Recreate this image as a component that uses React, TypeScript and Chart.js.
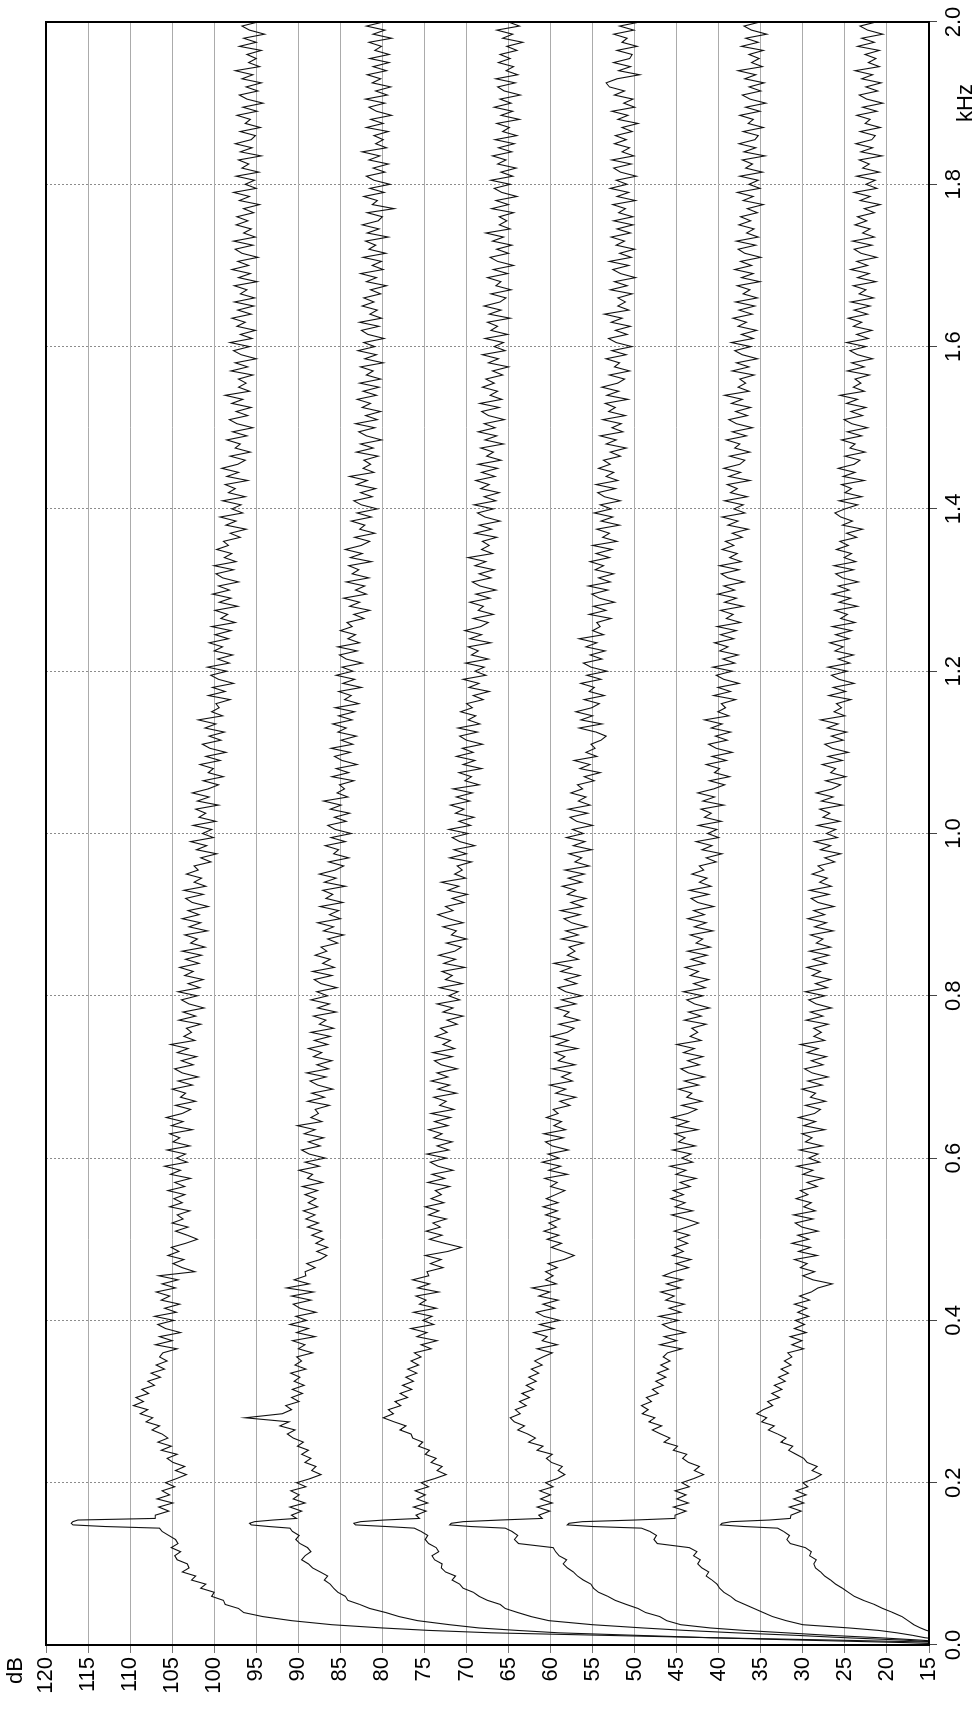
import React, { useEffect, useRef } from "react";
import { Chart, registerables } from "chart.js";

Chart.register(...registerables);

// ---- frequency sample positions (kHz) ----
const KHZ_LOW = [0, 0.003, 0.006, 0.009, 0.012, 0.015, 0.018, 0.021, 0.025];
const KHZ_RISE = Array.from({ length: 23 }, (_, i) => Math.round((0.03 + i * 0.005) * 1000) / 1000);
const KHZ_PEAK = [0.144, 0.146, 0.148, 0.15, 0.152, 0.154, 0.156];
const KHZ_MAIN = Array.from({ length: 369 }, (_, i) => Math.round((0.16 + i * 0.005) * 1000) / 1000);
const KHZ = [...KHZ_LOW, ...KHZ_RISE, ...KHZ_PEAK, ...KHZ_MAIN];

// ---- tick labels ----
const KHZ_TICKS = ["0.0", "0.2", "0.4", "0.6", "0.8", "1.0", "1.2", "1.4", "1.6", "1.8", "2.0"];
const DB_TICKS = [120, 115, 110, 105, 100, 95, 90, 85, 80, 75, 70, 65, 60, 55, 50, 45, 40, 35, 30, 25, 20, 15];

// ---- series (dB) ----
const TRACE_1 = [
  5, 12, 26, 41, 54, 67, 74.5, 80, 86,
  90.8, 94.2, 96.5, 97.1, 98.7, 98.9, 100.3, 100.0, 101.6, 101.0, 102.7, 102.2, 103.8, 103.0, 103.2, 104.4, 104.7, 104.0, 105.1, 104.3, 104.6, 105.4, 106.2,
  106.5, 113, 116.8, 117, 116.8, 116.2, 107,
  107.0, 105.4, 106.6, 104.9, 106.8, 105.3, 106.2, 104.7, 105.8, 104.5, 103.3, 104.6, 103.5, 104.9, 105.6, 104.4, 106.3, 105.1, 106.7, 105.5,
  106.2, 107.4, 106.5, 108.1, 107.3, 108.8, 107.9, 109.6, 108.4, 109.3, 107.8, 108.6, 107.1, 107.9, 106.4, 107.5, 105.9, 106.9, 105.6, 106.5,
  106.1, 104.4, 107.0, 105.0, 106.5, 104.0, 105.8, 106.7, 104.8, 107.1, 104.5, 105.9, 104.1, 106.3, 105.3, 106.9, 104.6, 106.2, 104.3, 106.6,
  102.3, 103.8, 104.9, 103.6, 105.5, 104.2, 105.1, 103.4, 102.0, 103.2, 104.6, 103.1, 105.0, 103.7, 104.4, 102.9, 105.3, 103.8, 104.8, 103.5,
  105.5, 103.5, 104.7, 102.8, 105.2, 104.0, 105.9, 103.2, 104.5, 103.4, 105.6, 102.9, 104.9, 104.1, 105.3, 102.6, 105.1, 103.7, 105.7, 103.8,
  102.8, 104.6, 102.2, 104.0, 103.4, 105.0, 102.6, 104.3, 101.9, 103.8, 104.7, 102.5, 103.9, 102.1, 104.4, 103.1, 105.2, 102.3, 103.6, 102.7,
  103.3, 101.6, 104.2, 102.2, 103.7, 101.2, 103.0, 103.9, 102.0, 104.3, 101.7, 103.1, 101.3, 103.5, 102.5, 104.1, 101.8, 103.4, 101.5, 103.8,
  101.1, 102.8, 102.0, 103.5, 100.8, 103.0, 101.6, 103.8, 101.8, 103.1, 100.7, 102.6, 103.4, 101.3, 103.6, 101.0, 102.4, 101.5, 103.3, 101.9,
  102.4, 100.4, 101.6, 99.7, 102.1, 100.9, 102.8, 100.1, 101.4, 100.3, 102.5, 99.8, 101.8, 101.0, 102.2, 99.5, 102.0, 100.6, 102.6, 100.7,
  99.5, 101.3, 98.9, 100.7, 100.1, 101.7, 99.3, 101.0, 98.6, 100.5, 101.4, 99.2, 100.6, 98.8, 101.1, 99.8, 101.9, 99.0, 100.3, 99.4,
  99.8, 98.1, 100.7, 98.7, 100.2, 97.7, 99.5, 100.4, 98.5, 100.8, 98.2, 99.6, 97.8, 100.0, 99.0, 100.6, 98.3, 99.9, 98.0, 100.3,
  97.5, 99.2, 98.4, 99.9, 97.2, 99.4, 98.0, 100.2, 98.2, 99.5, 97.1, 99.0, 99.8, 97.7, 100.0, 97.4, 98.8, 97.9, 99.7, 98.3,
  98.9, 96.9, 98.1, 96.2, 98.6, 97.4, 99.3, 96.6, 97.9, 96.8, 99.0, 96.3, 98.3, 97.5, 98.7, 96.0, 98.5, 97.1, 99.1, 97.2,
  96.3, 98.1, 95.7, 97.5, 96.9, 98.5, 96.1, 97.8, 95.4, 97.3, 98.2, 96.0, 97.4, 95.6, 97.9, 96.6, 98.7, 95.8, 97.1, 96.2,
  97.1, 95.4, 98.0, 96.0, 97.5, 95.0, 96.8, 97.7, 95.8, 98.1, 95.5, 96.9, 95.1, 97.3, 96.3, 97.9, 95.6, 97.2, 95.3, 97.6,
  95.2, 96.9, 96.1, 97.6, 94.9, 97.1, 95.7, 97.9, 95.9, 97.2, 94.8, 96.7, 97.5, 95.4, 97.7, 95.1, 96.5, 95.6, 97.4, 96.0,
  97.3, 95.3, 96.5, 94.6, 97.0, 95.8, 97.7, 95.0, 96.3, 95.2, 97.4, 94.7, 96.7, 95.9, 97.1, 94.4, 96.9, 95.5, 97.5, 95.6,
  95.1, 96.9, 94.5, 96.3, 95.7, 97.3, 94.9, 96.6, 94.2, 96.1, 97.0, 94.8, 96.2, 94.4, 96.7, 95.4, 97.5, 94.6, 95.9, 95.0,
  96.1, 94.4, 97.0, 95.0, 96.5, 94.0, 95.8, 96.7, 94.8,
];

const TRACE_2 = [
  10, 18, 30, 41, 50, 59, 64, 68.5, 72,
  75.8, 78.0, 79.6, 81.5, 82.7, 84.1, 84.4, 85.3, 85.8, 86.2, 86.9, 86.5, 87.4, 88.3, 88.8, 89.6, 89.2, 88.5, 88.9, 89.8, 90.3, 89.9, 90.7,
  91, 93.5, 95.6, 95.8, 95.2, 93, 90.2,
  90.8, 89.6, 91.0, 89.2, 90.6, 89.9, 90.9, 89.1, 90.2, 88.6, 87.3, 88.4, 87.9, 89.2, 88.5, 89.6, 88.8, 90.1, 89.4, 90.6,
  91.3, 90.4, 92.2, 91.1, 96.3, 91.9, 90.8, 91.5, 89.9, 90.8, 89.5, 90.7, 89.3, 90.5, 89.8, 90.9, 89.1, 90.4, 89.6, 90.2,
  88.3, 90.0, 89.2, 90.7, 88.0, 90.2, 88.8, 91.0, 89.0, 90.3, 87.9, 89.8, 90.6, 88.5, 90.8, 88.2, 91.4, 88.7, 90.5, 89.1,
  89.2, 88.0, 89.0, 87.4, 86.6, 87.8, 86.5, 87.9, 87.0, 88.4, 87.2, 88.9, 87.6, 89.1, 88.0, 89.4, 87.7, 88.8, 87.9, 89.2,
  87.7, 89.5, 87.1, 88.9, 88.3, 89.9, 87.5, 89.2, 86.8, 88.7, 89.6, 87.4, 88.8, 87.0, 89.3, 88.0, 90.1, 87.2, 88.5, 87.6,
  88.0, 86.3, 88.9, 86.9, 88.4, 85.9, 87.7, 88.6, 86.7, 89.0, 86.4, 87.8, 86.0, 88.2, 87.2, 88.8, 86.5, 88.1, 86.2, 88.5,
  85.8, 87.5, 86.7, 88.2, 85.5, 87.7, 86.3, 88.5, 86.5, 87.8, 85.4, 87.3, 88.1, 86.0, 88.3, 85.7, 87.1, 86.2, 88.0, 86.6,
  87.3, 85.3, 86.5, 84.6, 87.0, 85.8, 87.7, 85.0, 86.3, 85.2, 87.4, 84.7, 86.7, 85.9, 87.1, 84.4, 86.9, 85.5, 87.5, 85.6,
  84.6, 86.4, 84.0, 85.8, 85.2, 86.8, 84.4, 86.1, 83.7, 85.6, 86.5, 84.3, 85.7, 83.9, 86.2, 84.9, 87.0, 84.1, 85.4, 84.5,
  85.1, 83.4, 86.0, 84.0, 85.5, 83.0, 84.8, 85.7, 83.8, 86.1, 83.5, 84.9, 83.1, 85.3, 84.3, 85.9, 83.6, 85.2, 83.3, 85.6,
  82.8, 84.5, 83.7, 85.2, 82.5, 84.7, 83.3, 85.5, 83.5, 84.8, 82.4, 84.3, 85.1, 83.0, 85.3, 82.7, 84.1, 83.2, 85.0, 83.6,
  84.2, 82.2, 83.4, 81.5, 83.9, 82.7, 84.6, 81.9, 83.2, 82.1, 84.3, 81.6, 83.6, 82.8, 84.0, 81.3, 83.8, 82.4, 84.4, 82.5,
  81.5, 83.3, 80.9, 82.7, 82.1, 83.7, 81.3, 83.0, 80.6, 82.5, 83.4, 81.2, 82.6, 80.8, 83.1, 81.8, 83.9, 81.0, 82.3, 81.4,
  82.2, 80.5, 83.1, 81.1, 82.6, 80.1, 81.9, 82.8, 80.9, 83.2, 80.6, 82.0, 80.2, 82.4, 81.4, 83.0, 80.7, 82.3, 80.4, 82.7,
  80.2, 81.9, 81.1, 82.6, 79.9, 82.1, 80.7, 82.9, 80.9, 82.2, 79.8, 81.7, 82.5, 80.4, 82.7, 80.1, 81.5, 80.6, 82.4, 81.0,
  82.2, 80.2, 81.4, 79.5, 81.9, 80.7, 82.6, 79.9, 81.2, 80.1, 82.3, 79.6, 81.6, 80.8, 82.0, 79.3, 81.8, 80.4, 82.4, 80.5,
  80.0, 81.8, 78.6, 81.2, 80.6, 82.2, 79.8, 81.5, 79.1, 81.0, 81.9, 79.7, 81.1, 79.3, 81.6, 80.3, 82.4, 79.5, 80.8, 79.9,
  81.0, 79.3, 81.9, 79.9, 81.4, 78.9, 80.7, 81.6, 79.7, 82.0, 79.4, 80.8, 79.0, 81.2, 80.2, 81.8, 79.5, 81.1, 79.2, 81.5,
  79.2, 80.9, 80.1, 81.6, 78.9, 81.1, 79.7, 81.9, 79.9,
];

const TRACE_3 = [
  9, 13, 18, 25, 31, 38, 44, 49, 55,
  60.2, 62.3, 63.9, 65.4, 66.0, 67.5, 68.5, 69.2, 70.4, 70.8, 71.7, 71.3, 72.5, 73.0, 72.9, 73.8, 74.1, 73.3, 73.6, 74.5, 74.9, 74.6, 75.4,
  76.2, 79.5, 83.2, 83.4, 82.6, 79.8, 75.6,
  76.0, 74.8, 76.3, 74.6, 75.9, 74.9, 76.1, 74.5, 75.4, 73.8, 72.4, 73.5, 72.9, 74.2, 73.6, 74.9, 74.4, 75.7, 75.2, 76.4,
  76.6, 77.9, 77.2, 78.6, 79.9, 78.7, 79.3, 77.8, 78.5, 77.0, 77.9, 76.5, 77.6, 76.3, 77.2, 75.9, 77.0, 75.7, 76.6, 75.4,
  76.2, 74.2, 75.4, 73.5, 75.9, 74.7, 76.6, 73.9, 75.2, 74.1, 76.3, 73.6, 75.6, 74.8, 76.0, 73.3, 75.8, 74.4, 76.4, 74.5,
  74.7, 72.8, 74.3, 73.0, 74.9, 72.2, 70.6, 72.6, 74.4, 72.9, 74.8, 73.1, 74.0, 72.4, 74.5, 73.3, 74.9, 72.7, 74.2, 73.0,
  73.7, 72.0, 74.6, 72.6, 74.1, 71.6, 73.4, 74.3, 72.4, 74.7, 72.1, 73.5, 71.7, 73.9, 72.9, 74.5, 72.2, 73.8, 71.9, 74.2,
  71.5, 73.2, 72.4, 73.9, 71.2, 73.4, 72.0, 74.2, 72.2, 73.5, 71.1, 73.0, 73.8, 71.7, 74.0, 71.4, 72.8, 71.9, 73.7, 72.3,
  73.1, 71.1, 72.3, 70.4, 72.8, 71.6, 73.5, 70.8, 72.1, 71.0, 73.2, 70.5, 72.5, 71.7, 72.9, 70.2, 72.7, 71.3, 73.3, 71.4,
  70.6, 72.4, 70.0, 71.8, 71.2, 72.8, 70.4, 72.1, 73.4, 71.6, 72.5, 70.3, 71.7, 69.9, 72.2, 70.9, 73.0, 70.1, 71.4, 70.5,
  71.1, 69.4, 72.0, 70.0, 71.5, 69.0, 70.8, 71.7, 69.8, 72.1, 69.5, 70.9, 69.1, 71.3, 70.3, 71.9, 69.6, 71.2, 69.3, 71.6,
  68.5, 70.2, 69.4, 70.9, 68.2, 70.4, 69.0, 71.2, 69.2, 70.5, 68.1, 70.0, 70.8, 68.7, 71.0, 68.4, 69.8, 68.9, 70.7, 69.3,
  70.0, 68.0, 69.2, 67.3, 69.7, 68.5, 70.4, 67.7, 69.0, 67.9, 70.1, 67.4, 69.4, 68.6, 69.8, 67.1, 69.6, 68.2, 70.2, 68.3,
  67.4, 69.2, 66.8, 68.6, 68.0, 69.6, 67.2, 68.9, 66.5, 68.4, 69.3, 67.1, 68.5, 66.7, 69.0, 67.7, 69.8, 66.9, 68.2, 67.3,
  68.1, 66.4, 69.0, 67.0, 68.5, 66.0, 67.8, 68.7, 66.8, 69.1, 66.5, 67.9, 66.1, 68.3, 67.3, 68.9, 66.6, 68.2, 66.3, 68.6,
  65.9, 67.6, 66.8, 68.3, 65.6, 67.8, 66.4, 68.6, 66.6, 67.9, 65.5, 67.4, 68.2, 66.1, 68.4, 65.8, 67.2, 66.3, 68.1, 66.7,
  67.7, 65.7, 66.9, 65.0, 67.4, 66.2, 68.1, 65.4, 66.7, 65.6, 67.8, 65.1, 67.1, 66.3, 67.5, 64.8, 67.3, 65.9, 67.9, 66.0,
  65.3, 67.1, 64.7, 66.5, 65.9, 67.5, 65.1, 66.8, 64.4, 66.3, 67.2, 65.0, 66.4, 64.6, 66.9, 65.6, 67.7, 64.8, 66.1, 65.2,
  66.1, 64.4, 67.0, 65.0, 66.5, 64.0, 65.8, 66.7, 64.8, 67.1, 64.5, 65.9, 64.1, 66.3, 65.3, 66.9, 64.6, 66.2, 64.3, 66.6,
  64.0, 65.7, 64.9, 66.4, 63.7, 65.9, 64.5, 66.7, 64.7, 66.0, 63.6, 65.5, 66.3, 64.2, 66.5, 63.9, 65.3, 64.4, 66.2, 64.8,
  66.0, 64.0, 65.2, 63.3, 65.7, 64.5, 66.4, 63.7, 65.0,
];

const TRACE_4 = [
  8, 12, 16, 21, 27, 32, 37, 41, 44.5,
  46.2, 47.0, 48.7, 49.6, 51.0, 52.3, 53.2, 54.3, 54.9, 55.2, 56.1, 56.8, 57.3, 58.0, 58.5, 58.1, 59.0, 59.4, 59.7, 63.8, 64.3, 63.9, 64.6,
  65.4, 69.5, 72.0, 71.8, 70.4, 66.0, 61.0,
  61.4, 60.1, 61.6, 59.8, 61.2, 60.0, 61.3, 59.7, 60.6, 59.2, 58.3, 59.1, 58.6, 59.9, 60.5, 59.8, 61.6, 60.9, 62.6, 61.8,
  62.7, 63.9, 63.1, 64.3, 64.8, 63.6, 64.2, 62.9, 63.7, 62.5, 63.4, 62.0, 62.9, 61.7, 62.6, 61.4, 62.3, 61.0, 61.9, 60.9,
  59.8, 61.6, 59.2, 61.0, 60.4, 62.0, 59.6, 61.3, 58.9, 60.8, 61.7, 59.5, 60.9, 59.1, 61.4, 60.1, 62.2, 59.3, 60.6, 59.7,
  60.6, 59.2, 60.3, 58.4, 57.2, 58.5, 59.9, 58.7, 60.4, 59.0, 60.8, 59.3, 60.2, 58.9, 60.6, 59.2, 60.9, 59.1, 60.5, 59.4,
  58.3, 60.0, 59.2, 60.7, 58.0, 60.2, 58.8, 61.0, 59.0, 60.3, 57.9, 59.8, 60.6, 58.5, 60.8, 58.2, 59.6, 58.7, 60.5, 59.1,
  59.7, 57.7, 58.9, 57.0, 59.4, 58.2, 60.1, 57.4, 58.7, 57.6, 59.8, 57.1, 59.1, 58.3, 59.5, 56.8, 59.3, 57.9, 59.9, 58.0,
  57.2, 59.0, 56.6, 58.4, 57.8, 59.4, 57.0, 58.7, 56.3, 58.2, 59.1, 56.9, 58.3, 56.5, 58.8, 57.5, 59.6, 56.7, 58.0, 57.1,
  57.8, 56.1, 58.7, 56.7, 58.2, 55.7, 57.5, 58.4, 56.5, 58.8, 56.2, 57.6, 55.8, 58.0, 57.0, 58.6, 56.3, 57.9, 56.0, 58.3,
  55.4, 57.1, 56.3, 57.8, 55.1, 57.3, 55.9, 58.1, 56.1, 57.4, 55.0, 56.9, 57.7, 55.6, 57.9, 55.3, 56.7, 55.8, 57.6, 56.2,
  56.8, 54.8, 56.0, 54.1, 56.5, 55.3, 57.2, 54.5, 55.8, 54.7, 55.2, 54.0, 53.4, 54.6, 56.6, 53.9, 56.4, 55.0, 57.0, 55.1,
  54.2, 56.0, 53.6, 55.4, 54.8, 56.4, 54.0, 55.7, 53.3, 55.2, 56.1, 53.9, 55.3, 53.5, 55.8, 54.5, 56.6, 53.7, 55.0, 54.1,
  54.5, 52.8, 55.4, 53.4, 54.9, 52.4, 54.2, 55.1, 53.2, 55.5, 52.9, 54.3, 52.5, 54.7, 53.7, 55.3, 53.0, 54.6, 52.7, 55.0,
  52.1, 53.8, 53.0, 54.5, 51.8, 54.0, 52.6, 54.8, 52.8, 54.1, 51.7, 53.6, 54.4, 52.3, 54.6, 52.0, 53.4, 52.5, 54.3, 52.9,
  53.7, 51.7, 52.9, 51.0, 53.4, 52.2, 54.1, 51.4, 52.7, 51.6, 53.8, 51.1, 53.1, 52.3, 53.5, 50.8, 53.3, 51.9, 53.9, 52.0,
  51.2, 53.0, 50.6, 52.4, 51.8, 53.4, 51.0, 52.7, 50.3, 52.2, 53.1, 50.9, 52.3, 50.5, 52.8, 51.5, 53.6, 50.7, 52.0, 51.1,
  52.0, 50.3, 52.9, 50.9, 52.4, 49.9, 51.7, 52.6, 50.7, 53.0, 50.4, 51.8, 50.0, 52.2, 51.2, 52.8, 50.5, 52.1, 50.2, 52.5,
  50.2, 51.9, 51.1, 52.6, 49.9, 52.1, 50.7, 52.9, 50.9, 52.2, 49.8, 51.7, 52.5, 50.4, 52.7, 50.1, 51.5, 50.6, 52.4, 51.0,
  52.3, 50.3, 51.5, 49.6, 52.0, 50.8, 52.7, 50.0, 51.3, 50.2, 52.4, 51.2, 53.0, 53.4, 52.1, 49.4, 51.9, 50.5, 52.5, 50.6,
  50.3, 52.1, 49.7, 51.5, 50.9, 52.5, 50.1, 51.8, 49.4,
];

const TRACE_5 = [
  6, 9, 13, 15.5, 17, 18.8, 21, 24.5, 30,
  32.0, 33.6, 34.7, 35.8, 36.9, 38.0, 38.6, 39.4, 39.9, 40.2, 40.8, 41.5, 41.2, 42.0, 42.5, 42.2, 43.0, 42.6, 43.5, 47.3, 47.7, 47.4, 48.2,
  49.2, 55.0, 58.0, 57.8, 56.2, 50.0, 45.2,
  45.2, 43.9, 45.4, 43.6, 45.0, 43.9, 45.2, 43.5, 44.4, 43.0, 41.8, 42.9, 42.3, 43.6, 44.3, 43.8, 45.4, 44.9, 46.5, 45.8,
  46.9, 47.9, 46.8, 48.3, 47.6, 49.1, 48.4, 49.2, 48.0, 48.6, 47.2, 47.9, 46.6, 47.5, 46.3, 47.3, 46.0, 46.9, 45.8, 46.6,
  46.1, 44.4, 47.0, 45.0, 46.5, 44.0, 45.8, 46.7, 44.8, 47.1, 44.5, 45.9, 44.1, 46.3, 45.3, 46.9, 44.6, 46.2, 44.3, 46.6,
  45.4, 43.6, 45.1, 43.3, 45.5, 44.2, 45.2, 43.7, 44.9, 43.5, 45.3, 43.8, 42.4, 43.9, 45.6, 43.1, 45.2, 44.0, 45.7, 44.2,
  45.4, 43.4, 44.6, 42.7, 45.1, 43.9, 45.8, 43.1, 44.4, 43.3, 45.5, 42.8, 44.8, 44.0, 45.2, 42.5, 45.0, 43.6, 45.6, 43.7,
  42.6, 44.4, 42.0, 43.8, 43.2, 44.8, 42.4, 44.1, 41.7, 43.6, 44.5, 42.3, 43.7, 41.9, 44.2, 42.9, 45.0, 42.1, 43.4, 42.5,
  43.2, 41.5, 44.1, 42.1, 43.6, 41.1, 42.9, 43.8, 41.9, 44.2, 41.6, 43.0, 41.2, 43.4, 42.4, 44.0, 41.7, 43.3, 41.4, 43.7,
  41.0, 42.7, 41.9, 43.4, 40.7, 42.9, 41.5, 43.7, 41.7, 43.0, 40.6, 42.5, 43.3, 41.2, 43.5, 40.9, 42.3, 41.4, 43.2, 41.8,
  42.3, 40.3, 41.5, 39.6, 42.0, 40.8, 42.7, 40.0, 41.3, 40.2, 42.4, 39.7, 41.7, 40.9, 42.1, 39.4, 41.9, 40.5, 42.5, 40.6,
  39.3, 41.1, 38.7, 40.5, 39.9, 41.5, 39.1, 40.8, 38.4, 40.3, 41.2, 39.0, 40.4, 38.6, 40.9, 39.6, 41.7, 38.8, 40.1, 39.2,
  39.7, 38.0, 40.6, 38.6, 40.1, 37.6, 39.4, 40.3, 38.4, 40.7, 38.1, 39.5, 37.7, 39.9, 38.9, 40.5, 38.2, 39.8, 37.9, 40.2,
  37.4, 39.1, 38.3, 39.8, 37.1, 39.3, 37.9, 40.1, 38.1, 39.4, 37.0, 38.9, 39.7, 37.6, 39.9, 37.3, 38.7, 37.8, 39.6, 38.2,
  39.2, 37.2, 38.4, 36.5, 38.9, 37.7, 39.6, 36.9, 38.2, 37.1, 39.3, 36.6, 38.6, 37.8, 39.0, 36.3, 38.8, 37.4, 39.4, 37.5,
  36.9, 38.7, 36.3, 38.1, 37.5, 39.1, 36.7, 38.4, 36.0, 37.9, 38.8, 36.6, 38.0, 36.2, 38.5, 37.2, 39.3, 36.4, 37.7, 36.8,
  37.5, 35.8, 38.4, 36.4, 37.9, 35.4, 37.2, 38.1, 36.2, 38.5, 35.9, 37.3, 35.5, 37.7, 36.7, 38.3, 36.0, 37.6, 35.7, 38.0,
  35.4, 37.1, 36.3, 37.8, 35.1, 37.3, 35.9, 38.1, 36.1, 37.4, 35.0, 36.9, 37.7, 35.6, 37.9, 35.3, 36.7, 35.8, 37.6, 36.2,
  37.4, 35.4, 36.6, 34.7, 37.1, 35.9, 37.8, 35.1, 36.4, 35.3, 37.5, 34.8, 36.8, 36.0, 37.2, 34.5, 37.0, 35.6, 37.6, 35.7,
  35.3, 37.1, 34.7, 36.5, 35.9, 37.5, 35.1, 36.8, 34.4, 36.3, 37.2, 35.0, 36.4, 34.6, 36.9, 35.6, 37.7, 34.8, 36.1, 35.2,
  36.4, 34.7, 37.3, 35.3, 36.8, 34.3, 36.1, 37.0, 35.1,
];

const TRACE_6 = [
  5, 8, 10, 11.5, 13, 14.2, 15.3, 16.0, 16.8,
  17.5, 18.2, 19.3, 20.5, 21.5, 22.8, 23.9, 24.6, 25.3, 26.1, 26.7, 27.4, 27.9, 28.5, 28.7, 28.4, 29.2, 29.0, 29.7, 31.5, 31.9, 31.6, 32.3,
  33.0, 37.0, 39.8, 39.6, 38.5, 34.0, 31.5,
  31.4, 30.2, 31.6, 29.9, 31.1, 29.6, 30.8, 29.4, 30.0, 28.6, 27.8, 28.9, 28.3, 29.5, 29.9, 30.8, 31.7, 31.2, 32.6, 32.0,
  33.0, 34.1, 33.4, 34.9, 34.3, 35.5, 34.7, 33.6, 34.2, 32.8, 33.7, 32.5, 33.4, 32.1, 32.9, 31.7, 32.6, 31.4, 32.2, 31.3,
  31.8, 29.9, 31.3, 30.1, 31.5, 29.6, 31.0, 29.8, 30.9, 29.3, 30.6, 29.5, 31.0, 29.2, 30.4, 29.0, 28.2, 26.5, 28.8, 30.0,
  28.6, 30.3, 29.5, 31.0, 28.3, 30.5, 29.1, 31.3, 29.3, 30.6, 28.2, 30.1, 30.9, 28.8, 31.1, 28.5, 29.9, 29.0, 30.8, 29.4,
  30.3, 28.3, 29.5, 27.6, 30.0, 28.8, 30.7, 28.0, 29.3, 28.2, 30.4, 27.7, 29.7, 28.9, 30.1, 27.4, 29.9, 28.5, 30.5, 28.6,
  27.9, 29.7, 27.3, 29.1, 28.5, 30.1, 27.7, 29.4, 27.0, 28.9, 29.8, 27.6, 29.0, 27.2, 29.5, 28.2, 30.3, 27.4, 28.7, 27.8,
  28.7, 27.0, 29.6, 27.6, 29.1, 26.6, 28.4, 29.3, 27.4, 29.7, 27.1, 28.5, 26.7, 28.9, 27.9, 29.5, 27.2, 28.8, 26.9, 29.2,
  26.7, 28.4, 27.6, 29.1, 26.4, 28.6, 27.2, 29.4, 27.4, 28.7, 26.3, 28.2, 29.0, 26.9, 29.2, 26.6, 28.0, 27.1, 28.9, 27.5,
  28.2, 26.2, 27.4, 25.5, 27.9, 26.7, 28.6, 25.9, 27.2, 26.1, 28.3, 25.6, 27.6, 26.8, 28.0, 25.3, 27.8, 26.4, 28.4, 26.5,
  25.5, 27.3, 24.9, 26.7, 26.1, 27.7, 25.3, 27.0, 24.6, 26.5, 27.4, 25.2, 26.6, 24.8, 27.1, 25.8, 27.9, 25.0, 26.3, 25.4,
  26.0, 24.3, 26.9, 24.9, 26.4, 23.9, 25.7, 26.6, 24.7, 27.0, 24.4, 25.8, 24.0, 26.2, 25.2, 26.8, 24.5, 26.1, 24.2, 26.5,
  23.8, 25.5, 24.7, 26.2, 23.5, 25.7, 24.3, 26.5, 24.5, 25.8, 23.4, 25.3, 26.1, 24.0, 26.3, 23.7, 25.1, 24.2, 26.0, 24.6,
  25.6, 23.6, 24.8, 22.9, 25.3, 24.1, 25.5, 26.2, 25.0, 23.5, 25.7, 23.0, 25.0, 24.2, 25.4, 22.7, 25.2, 23.8, 25.8, 23.9,
  23.2, 25.0, 22.6, 24.4, 23.8, 25.4, 23.0, 24.7, 22.3, 24.2, 25.1, 22.9, 24.3, 22.5, 24.8, 23.5, 25.6, 22.7, 24.0, 23.1,
  23.8, 22.1, 24.7, 22.7, 24.2, 21.7, 23.5, 24.4, 22.5, 24.8, 22.2, 23.6, 21.8, 24.0, 23.0, 24.6, 22.3, 23.9, 22.0, 24.3,
  21.6, 23.3, 22.5, 24.0, 21.3, 23.5, 22.1, 24.3, 22.3, 23.6, 21.2, 23.1, 23.9, 21.8, 24.1, 21.5, 22.9, 22.0, 23.8, 22.4,
  23.5, 21.5, 22.7, 20.8, 23.2, 22.0, 23.9, 21.2, 22.5, 21.4, 23.6, 20.9, 22.9, 22.1, 23.3, 20.6, 23.1, 21.7, 23.7, 21.8,
  21.4, 23.2, 20.8, 22.6, 22.0, 23.6, 21.2, 22.9, 20.5, 22.4, 23.3, 21.1, 22.5, 20.7, 23.0, 21.7, 23.8, 20.9, 22.2, 21.3,
  22.6, 20.9, 23.5, 21.5, 23.0, 20.5, 22.3, 23.2, 21.3,
];

const TRACES = [TRACE_1, TRACE_2, TRACE_3, TRACE_4, TRACE_5, TRACE_6];

const FONT = '"Liberation Sans", Arial, Helvetica, sans-serif';
const CANVAS_W = 1731; // becomes page height after rotation
const CANVAS_H = 976; // becomes page width after rotation

const framePlugin = {
  id: "frameAndTitles",
  afterDraw(chart: any) {
    const { ctx, chartArea } = chart;
    const { left, top, right, bottom } = chartArea;
    ctx.save();
    ctx.strokeStyle = "#000";
    ctx.lineWidth = 2;
    ctx.strokeRect(left, top, right - left, bottom - top);
    ctx.fillStyle = "#000";
    ctx.font = `22px ${FONT}`;
    ctx.textBaseline = "middle";
    ctx.textAlign = "right";
    ctx.fillText("dB", left - 12, top - 30);
    ctx.textAlign = "center";
    ctx.fillText("kHz", right - 81, bottom + 37);
    ctx.restore();
  },
};

export default function App() {
  const ref = useRef<HTMLCanvasElement | null>(null);

  useEffect(() => {
    if (!ref.current) return;
    const datasets = TRACES.map((t, idx) => ({
      label: `trace ${idx + 1}`,
      data: KHZ.map((k, i) => ({ x: k, y: t[i] })),
      borderColor: "#111",
      borderWidth: 1.1,
      pointRadius: 0,
      fill: false,
      tension: 0,
    }));

    const chart = new Chart(ref.current, {
      type: "line",
      data: { datasets },
      plugins: [framePlugin],
      options: {
        animation: false,
        responsive: false,
        devicePixelRatio: 1,
        parsing: false as any,
        normalized: true,
        layout: { padding: { top: 46, right: 22, left: 0, bottom: 0 } },
        plugins: {
          legend: { display: false },
          tooltip: { enabled: false },
        },
        scales: {
          x: {
            type: "linear",
            min: 0,
            max: 2,
            afterBuildTicks: (scale: any) => {
              scale.ticks = KHZ_TICKS.map((v) => ({ value: parseFloat(v) }));
            },
            afterFit: (scale: any) => {
              scale.height = 47;
            },
            ticks: {
              autoSkip: false,
              maxRotation: 0,
              minRotation: 0,
              padding: 4,
              color: "#000",
              font: { family: FONT, size: 22 },
              callback: (v: any) => Number(v).toFixed(1),
            },
            grid: {
              color: "#8c8c8c",
              lineWidth: 1,
              tickLength: 8,
              tickColor: "#444",
            },
            border: { display: false, dash: [2, 2] },
          },
          y: {
            type: "linear",
            min: 15,
            max: 120,
            afterBuildTicks: (scale: any) => {
              scale.ticks = DB_TICKS.map((v) => ({ value: v }));
            },
            afterFit: (scale: any) => {
              scale.width = 86;
            },
            ticks: {
              autoSkip: false,
              padding: 4,
              color: "#000",
              font: { family: FONT, size: 22 },
            },
            grid: {
              color: "#ababab",
              lineWidth: 1,
              tickLength: 8,
              tickColor: "#777",
            },
            border: { display: false },
          },
        },
      },
    });
    return () => chart.destroy();
  }, []);

  return (
    <div
      style={{
        position: "fixed",
        left: 0,
        top: 0,
        width: CANVAS_W,
        height: CANVAS_H,
        background: "#fff",
        transformOrigin: "0 0",
        transform: `translate(0px, ${CANVAS_W}px) rotate(-90deg)`,
      }}
    >
      <canvas ref={ref} width={CANVAS_W} height={CANVAS_H} style={{ display: "block" }} />
    </div>
  );
}
